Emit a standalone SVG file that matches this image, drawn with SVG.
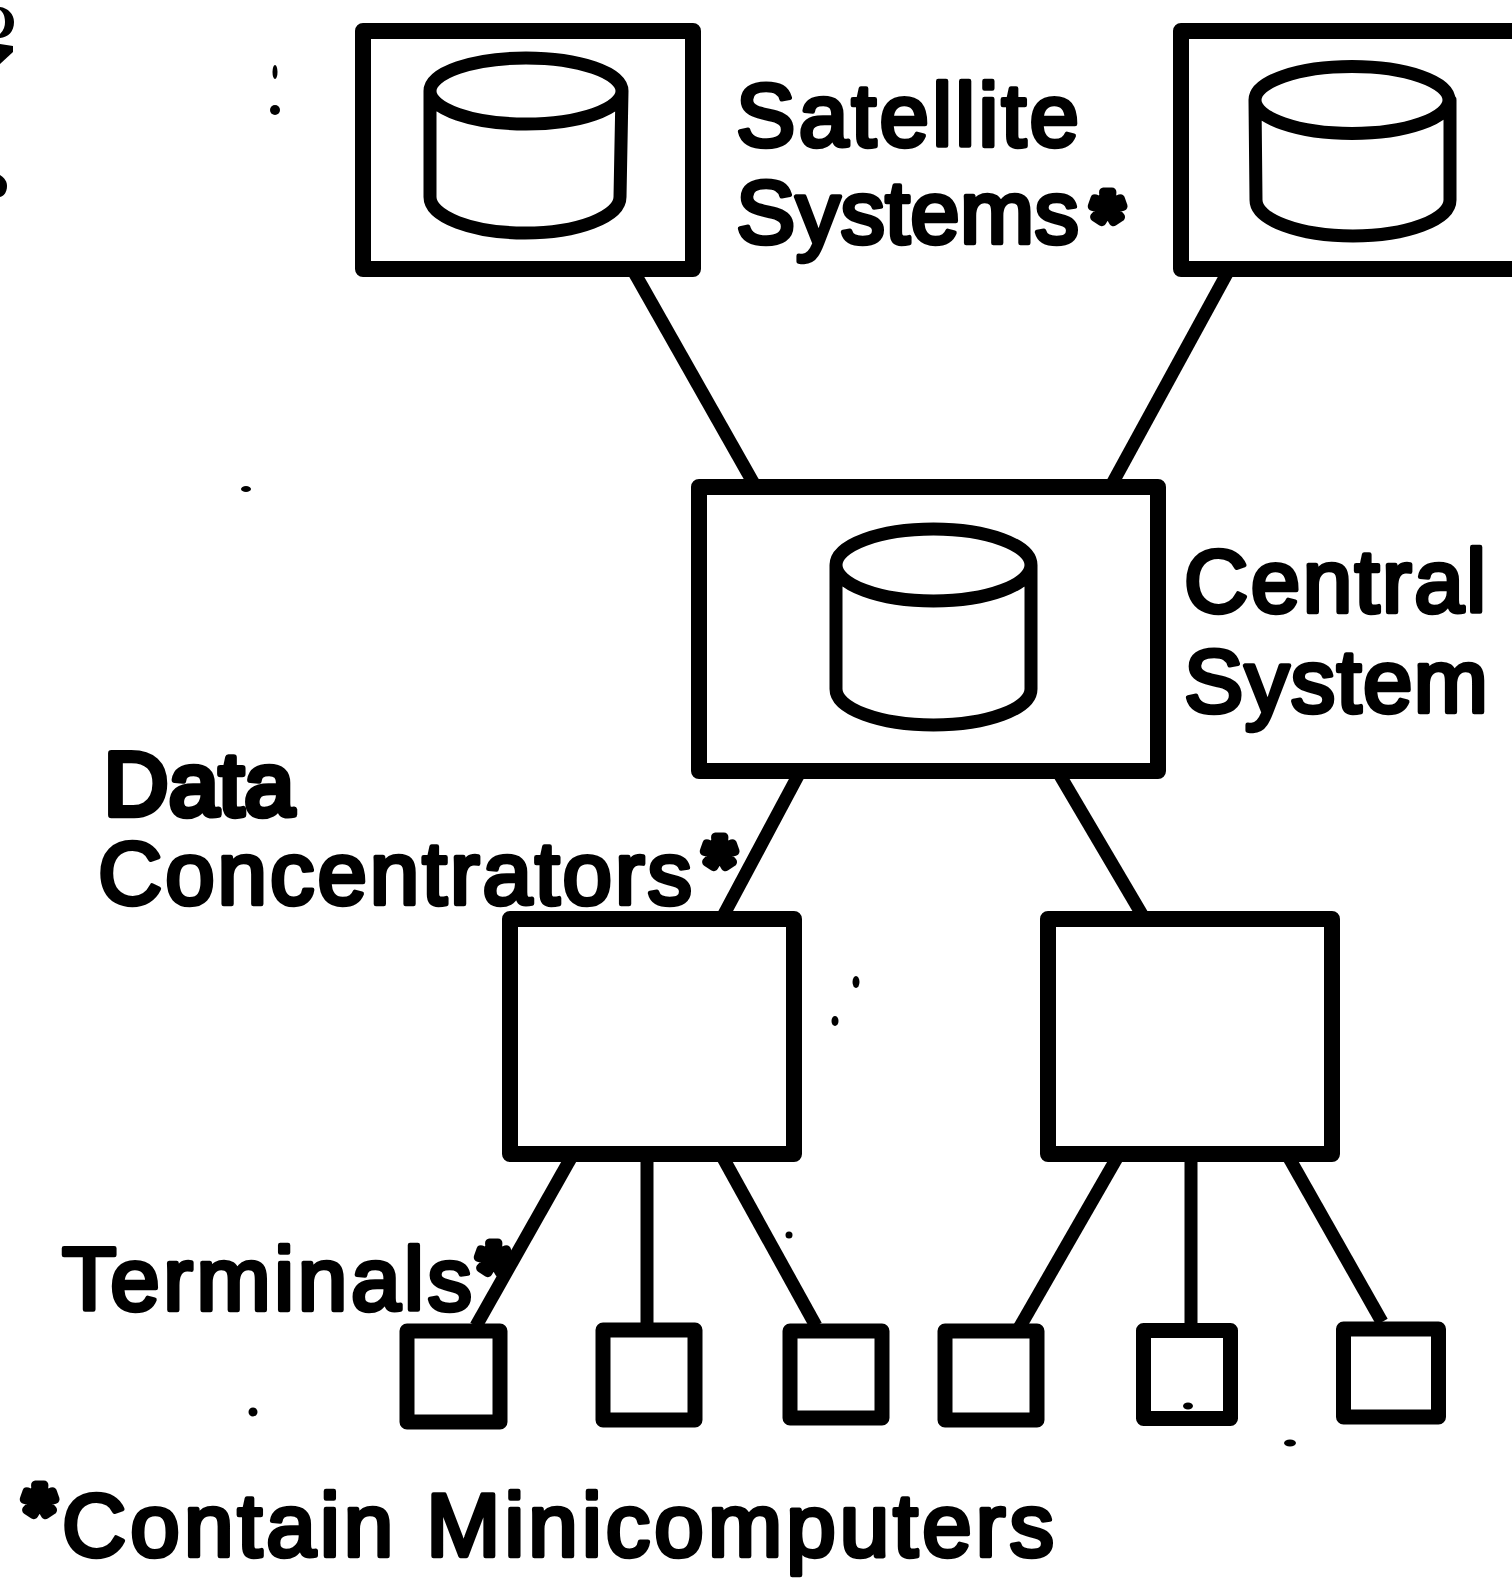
<svg xmlns="http://www.w3.org/2000/svg" width="1512" height="1582" viewBox="0 0 1512 1582">
<style>
.box{fill:#fff;stroke:#000;stroke-width:16;stroke-linejoin:round}
.cyl{fill:none;stroke:#000;stroke-width:13;stroke-linecap:round;stroke-linejoin:round}
.term{fill:#fff;stroke:#000;stroke-width:15;stroke-linejoin:round}
.con{stroke:#000;stroke-width:13;fill:none}
text{font-family:"Liberation Sans",Arial,sans-serif;font-weight:400;font-size:89px;fill:#000;stroke:#000;stroke-width:4.500;stroke-linejoin:round}
.heavy{stroke-width:6.500}
.star{font-weight:700;font-size:80px;stroke-width:9}
.spk{fill:#000}
</style>
<rect width="1512" height="1582" fill="#fff"/>
<g id="connectors">
<path class="con" d="M634 272L754 484"/>
<path class="con" d="M1230 268L1112 484"/>
<path class="con" d="M800 772L722 918"/>
<path class="con" d="M1058 772L1144 918"/>
<path class="con" d="M572 1156L476 1326"/>
<path class="con" d="M647 1156V1326"/>
<path class="con" d="M722 1156L816 1326"/>
<path class="con" d="M1118 1156L1018 1330"/>
<path class="con" d="M1191 1156V1326"/>
<path class="con" d="M1288 1156L1382 1322"/>
</g>
<g id="satellite-left">
<rect class="box" x="363" y="31" width="330" height="238"/>
<path class="cyl" d="M430 91A96 33 0 0 1 622 91A96 33 0 0 1 430 91V197A95 36 0 0 0 620 197L622 91"/>
</g>
<g id="satellite-right">
<rect class="box" x="1181" y="31" width="340" height="238"/>
<path class="cyl" d="M1255 100A97 33.500 0 0 1 1449 100A97 33.500 0 0 1 1255 100L1256 200A97 36 0 0 0 1450 200V100"/>
</g>
<g id="central">
<rect class="box" x="699" y="487" width="459" height="284"/>
<path class="cyl" d="M836 565A97.500 36 0 0 1 1031 565A97.500 36 0 0 1 836 565V689A97.500 36 0 0 0 1031 689V565"/>
</g>
<g id="concentrator-left"><rect class="box" x="510" y="919" width="284" height="235"/></g>
<g id="concentrator-right"><rect class="box" x="1048" y="919" width="284" height="235"/></g>
<g id="terminal-1"><rect class="term" x="407" y="1331" width="93" height="91"/></g>
<g id="terminal-2"><rect class="term" x="603" y="1330" width="92" height="90"/></g>
<g id="terminal-3"><rect class="term" x="790" y="1331" width="92" height="87"/></g>
<g id="terminal-4"><rect class="term" x="945" y="1331" width="92" height="89"/></g>
<g id="terminal-5"><rect class="term" x="1143.500" y="1330.500" width="87" height="88"/></g>
<g id="terminal-6"><rect class="term" x="1343.500" y="1329" width="95" height="88"/></g>
<g id="labels">
<text x="736" y="146"><tspan textLength="343" lengthAdjust="spacing">Satellite</tspan></text>
<text x="736" y="243"><tspan textLength="343" lengthAdjust="spacing">Systems</tspan><tspan class="star" x="1092" y="247">*</tspan></text>
<text x="1184" y="612"><tspan textLength="302" lengthAdjust="spacing">Central</tspan></text>
<text x="1184" y="712"><tspan textLength="304" lengthAdjust="spacing">System</tspan></text>
<text class="heavy" x="104" y="815"><tspan textLength="190" lengthAdjust="spacing">Data</tspan></text>
<text x="98" y="904"><tspan textLength="594" lengthAdjust="spacing">Concentrators</tspan><tspan class="star" x="704" y="892">*</tspan></text>
<text x="62" y="1310"><tspan textLength="410" lengthAdjust="spacing">Terminals</tspan><tspan class="star" x="478" y="1298">*</tspan></text>
<text x="24" y="1540"><tspan class="star">*</tspan><tspan x="62" y="1556" textLength="992" lengthAdjust="spacing">Contain Minicomputers</tspan></text>
</g>
<g id="specks">
<ellipse class="spk" cx="275" cy="72" rx="2.500" ry="7"/>
<ellipse class="spk" cx="275" cy="110" rx="5" ry="5"/>
<ellipse class="spk" cx="246" cy="489" rx="5" ry="3"/>
<ellipse class="spk" cx="856" cy="982" rx="3.500" ry="6"/>
<ellipse class="spk" cx="835" cy="1021" rx="3.500" ry="5"/>
<circle class="spk" cx="789" cy="1235" r="3.500"/>
<circle class="spk" cx="253" cy="1412" r="4.500"/>
<ellipse class="spk" cx="1188" cy="1406" rx="5" ry="3.500"/>
<ellipse class="spk" cx="1290" cy="1443" rx="6" ry="3.500"/>
<path class="spk" d="M0 7C8 8 14 14 14 22C14 32 8 37 0 38L0 34C4 30 5 26 5 22C5 16 3 12 0 10Z"/>
<path class="spk" d="M0 44L13 46L13 52L0 64Z"/>
<path class="spk" d="M0 175C5 178 7 182 7 186C7 192 4 196 0 197Z"/>
</g>
</svg>
